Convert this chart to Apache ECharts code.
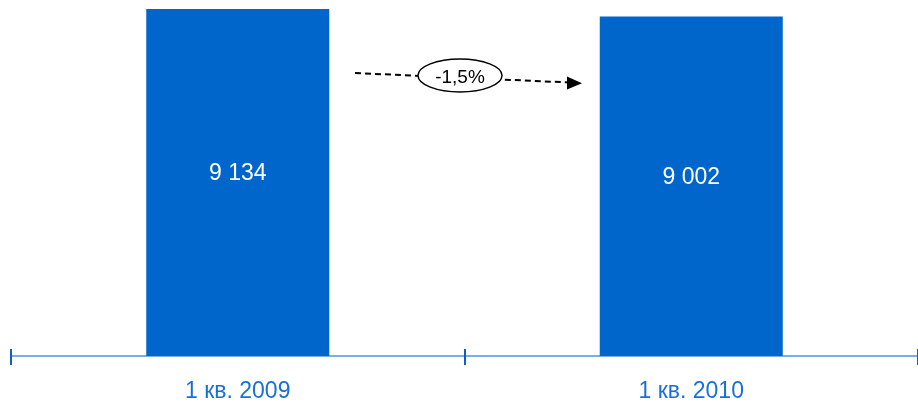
<!DOCTYPE html>
<html>
<head>
<meta charset="utf-8">
<script src="https://cdn.jsdelivr.net/npm/echarts@6/dist/echarts.min.js"></script>
<style>
html,body{margin:0;padding:0;background:#fff;}
#chart{width:918px;height:406px;}
</style>
</head>
<body>
<div id="chart"></div>
<script>
const categories = ['1 кв. 2009', '1 кв. 2010'];
const values = [9134, 9002];
const labels = ['9 134', '9 002'];
const changeLabel = '-1,5%';

const FONT = '"Liberation Sans Narrow", "Arial Narrow", "Liberation Sans", Arial, sans-serif';
const chart = echarts.init(document.getElementById('chart'), null, {renderer: 'canvas'});

chart.setOption({
  animation: false,
  backgroundColor: '#ffffff',
  grid: {left: 11, width: 910, top: 0, bottom: 50, containLabel: false},
  xAxis: [{
    type: 'category',
    data: categories,
    boundaryGap: true,
    axisLine: {show: true, lineStyle: {color: '#7aaeea', width: 2}},
    axisTick: {show: true, length: 9, lineStyle: {color: '#0a5fcf', width: 2}},
    axisLabel: {color: '#1a6fd6', fontFamily: FONT, fontSize: 23, margin: 24}
  }, {
    type: 'category',
    data: categories,
    position: 'bottom',
    boundaryGap: true,
    axisLine: {show: false},
    axisTick: {show: true, inside: true, length: 7, lineStyle: {color: '#0a5fcf', width: 2}},
    axisLabel: {show: false}
  }],
  yAxis: {
    type: 'value',
    min: 3000,
    max: 9293,
    show: false,
    splitLine: {show: false}
  },
  series: [{
    type: 'bar',
    data: values,
    barWidth: 183,
    itemStyle: {color: '#0066cc'},
    label: {
      show: true,
      position: 'inside',
      offset: [0, -9],
      color: '#ffffff',
      fontFamily: FONT,
      fontSize: 23,
      formatter: function (p) { return labels[p.dataIndex]; }
    }
  }],
  graphic: [
    {type: 'line', z: 10, shape: {x1: 355, y1: 73, x2: 572, y2: 82.6},
     style: {stroke: '#000', lineWidth: 2, lineDash: [6, 4]}},
    {type: 'polygon', z: 11, shape: {points: [[582, 83.2], [567, 76.5], [567, 89.5]]},
     style: {fill: '#000'}},
    {type: 'ellipse', z: 12, shape: {cx: 460, cy: 75.5, rx: 42, ry: 16.5},
     style: {fill: '#fff', stroke: '#000', lineWidth: 1.5}},
    {type: 'text', z: 13, x: 460, y: 78,
     style: {text: changeLabel, fill: '#000', font: '19px ' + FONT, align: 'center', verticalAlign: 'middle'}}
  ]
});
</script>
</body>
</html>
